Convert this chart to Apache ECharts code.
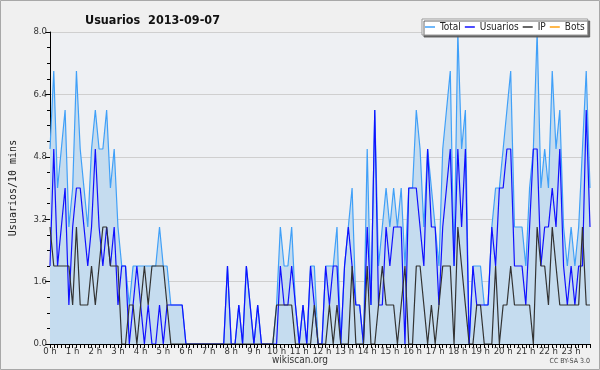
<!DOCTYPE html>
<html>
<head>
<meta charset="utf-8">
<script src="https://cdn.jsdelivr.net/npm/echarts@6/dist/echarts.min.js"></script>
<style>
  html, body { margin: 0; padding: 0; background: #f0f0f0; }
  #chart { width: 600px; height: 370px; }
</style>
</head>
<body>
<div id="chart"></div>
<script>
// etiquetas de horas del eje x
const hourLabels = ['0 h','1 h','2 h','3 h','4 h','5 h','6 h','7 h','8 h','9 h','10 h','11 h',
    '12 h','13 h','14 h','15 h','16 h','17 h','18 h','19 h','20 h','21 h','22 h','23 h'];

// valores cada 10 minutos (144 puntos)
const total = [
    5,7,4,5,6,3,4,7,5,4,3,5,
    6,5,5,6,4,5,3,2,2,1,2,2,
    2,2,2,2,2,3,2,2,1,1,1,1,
    0,0,0,0,0,0,0,0,0,0,0,2,
    0,0,1,0,2,1,0,1,0,0,0,0,
    1,3,2,2,3,1,0,1,0,2,2,0,
    0,2,2,2,3,0,2,3,4,1,1,0,
    5,1,6,2,3,4,3,4,3,4,2,4,
    4,6,5,3,5,4,3,2,5,6,7,2,
    8,5,6,0,2,2,2,1,1,3,4,4,
    5,6,7,3,3,3,2,4,5,8,4,5,
    4,7,5,6,3,2,3,2,3,5,7,4
];
const usuarios = [
    2,5,2,3,4,1,3,4,4,3,2,3,
    5,3,2,3,2,3,1,2,2,0,1,2,
    1,0,1,0,0,1,0,1,1,1,1,1,
    0,0,0,0,0,0,0,0,0,0,0,2,
    0,0,1,0,2,1,0,1,0,0,0,0,
    0,2,1,1,2,1,0,1,0,2,1,0,
    0,2,1,2,2,0,2,3,2,1,1,0,
    3,1,6,1,1,3,2,3,3,3,0,4,
    4,4,3,2,5,3,3,1,3,4,5,2,
    5,3,5,0,2,1,1,1,1,3,2,4,
    4,5,5,2,2,2,1,3,5,5,2,3,
    3,4,3,5,2,1,2,1,2,2,6,3
];
const ip = [
    3,2,2,2,2,2,1,3,1,1,1,2,
    1,2,3,3,2,2,2,0,0,1,1,0,
    1,2,1,2,2,2,2,1,0,0,0,0,
    0,0,0,0,0,0,0,0,0,0,0,0,
    0,0,0,0,0,0,0,0,0,0,0,0,
    1,1,1,1,1,0,0,0,0,0,1,0,
    0,0,1,0,1,0,0,0,2,0,0,0,
    2,0,0,1,2,1,1,1,0,1,2,0,
    0,2,2,1,0,1,0,1,2,2,2,0,
    3,2,1,0,0,1,1,0,0,0,2,0,
    1,1,2,1,1,1,1,1,0,3,2,2,
    1,3,2,1,1,1,1,1,1,3,1,1
];
const bots = [
    0,0,0,0,0,0,0,0,0,0,0,0, 0,0,0,0,0,0,0,0,0,0,0,0,
    0,0,0,0,0,0,0,0,0,0,0,0, 0,0,0,0,0,0,0,0,0,0,0,0,
    0,0,0,0,0,0,0,0,0,0,0,0, 0,0,0,0,0,0,0,0,0,0,0,0,
    0,0,0,0,0,0,0,0,0,0,0,0, 0,0,0,0,0,0,0,0,0,0,0,0,
    0,0,0,0,0,0,0,0,0,0,0,0, 0,0,0,0,0,0,0,0,0,0,0,0,
    0,0,0,0,0,0,0,0,0,0,0,0, 0,0,0,0,0,0,0,0,0,0,0,0
];

// categorías: una por cada 10 minutos
const slots = [];
hourLabels.forEach((h, hi) => {
    for (let m = 0; m < 6; m++) slots.push(hi + ':' + m + '0');
});

const font = '"DejaVu Sans Condensed", "Liberation Sans", sans-serif';
const chart = echarts.init(document.getElementById('chart'));

function line(name, data, color, extra) {
    return Object.assign({
        name: name,
        type: 'line',
        data: data,
        symbol: 'none',
        animation: false,
        lineStyle: { color: color, width: 1.2 },
        itemStyle: { color: color }
    }, extra || {});
}

chart.setOption({
    backgroundColor: '#f0f0f0',
    textStyle: { fontFamily: font },
    title: {
        text: 'Usuarios  2013-09-07',
        left: 80,
        top: 9,
        textStyle: { fontSize: 12.5, fontWeight: 'bold', color: '#111', fontFamily: font }
    },
    legend: {
        data: ['Total', 'Usuarios', 'IP', 'Bots'],
        left: 422,
        top: 19,
        width: 200,
        selectedMode: false,
        icon: 'rect',
        itemWidth: 10,
        itemHeight: 1.5,
        itemGap: 4,
        padding: [3, 3],
        backgroundColor: '#fff',
        borderColor: '#999',
        borderWidth: 1,
        shadowColor: 'rgba(90,90,90,0.9)',
        shadowOffsetX: 2,
        shadowOffsetY: 2,
        shadowBlur: 0,
        textStyle: { fontSize: 10, color: '#222', fontFamily: font }
    },
    grid: {
        left: 46, right: 10, top: 32, bottom: 26,
        show: true, backgroundColor: '#eef0f3', borderWidth: 0
    },
    xAxis: {
        type: 'category',
        boundaryGap: false,
        data: slots,
        z: 5,
        axisLine: { lineStyle: { color: '#000', width: 1 } },
        axisTick: { interval: 0, length: 4, lineStyle: { color: '#000' } },
        axisLabel: {
            interval: 5,
            margin: 3,
            fontSize: 9.5,
            color: '#333',
            formatter: (v, i) => hourLabels[Math.floor(i / 6)]
        },
        splitLine: { show: false }
    },
    yAxis: {
        type: 'value',
        min: 0,
        max: 8,
        interval: 1.6,
        name: 'Usuarios/10 mins',
        nameLocation: 'middle',
        nameGap: 32,
        nameTextStyle: { fontFamily: 'DejaVu Sans Mono', fontSize: 10, color: '#222' },
        axisLine: { show: true, lineStyle: { color: '#000', width: 1 } },
        axisTick: { show: true, length: 5, lineStyle: { color: '#000' } },
        minorTick: { show: true, splitNumber: 4, length: 3, lineStyle: { color: '#000' } },
        splitLine: { lineStyle: { color: '#cfcfcf', width: 1 } },
        axisLabel: { margin: 3, fontSize: 9.5, color: '#333', formatter: v => v.toFixed(1) }
    },
    series: [
        line('Total', total, '#40a0f8', { areaStyle: { color: '#c5dcef', opacity: 1 } }),
        line('Usuarios', usuarios, '#1010ff'),
        line('IP', ip, '#333333'),
        line('Bots', bots, '#ffa010', { z: 1 })
    ],
    graphic: [
        {
            type: 'rect',
            shape: { x: 0.5, y: 0.5, width: 599, height: 369 },
            style: { fill: 'none', stroke: '#a8a8a8', lineWidth: 1 },
            silent: true
        },
        {
            type: 'text',
            left: 'center',
            top: 355,
            style: { text: 'wikiscan.org', font: '10px "DejaVu Sans Condensed", "DejaVu Sans"', fill: '#333' }
        },
        {
            type: 'text',
            right: 10,
            top: 358,
            style: { text: 'CC BY-SA 3.0', font: '7px "DejaVu Sans Condensed", "DejaVu Sans"', fill: '#444' }
        }
    ]
});
</script>
</body>
</html>
